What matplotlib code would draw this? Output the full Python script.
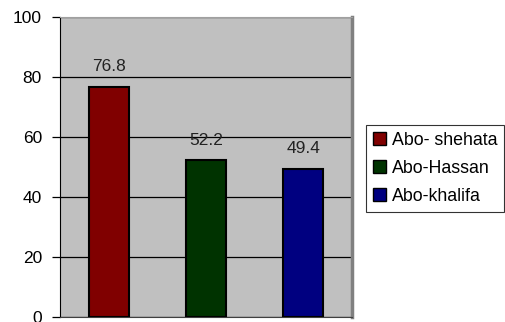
import matplotlib.pyplot as plt

plt.rcParams['font.family'] = ['Liberation Sans', 'DejaVu Sans']

names = ["Abo- shehata", "Abo-Hassan", "Abo-khalifa"]
values = [76.8, 52.2, 49.4]
colors = ["#800000", "#003300", "#000080"]
yticks = [0, 20, 40, 60, 80, 100]

fig = plt.figure(figsize=(5.05, 3.22), dpi=100)
ax = fig.add_axes([60 / 505, 5 / 322, 292 / 505, 300 / 322])
ax.set_facecolor("#c0c0c0")

x = list(range(len(values)))
bars = ax.bar(x, values, width=0.41, color=colors, edgecolor="black",
              linewidth=1.5, label=names, zorder=3)

# value labels above each bar
for xi, v in zip(x, values):
    ax.annotate(f"{v}", (xi, v), xytext=(0, 9), textcoords="offset points",
                ha="center", va="bottom", fontsize=12.5, color="#222222", zorder=4)

ax.set_xlim(-0.5, 2.5)
ax.set_ylim(0, 100)
ax.set_yticks(yticks)
ax.set_xticks([])
ax.yaxis.grid(True, color="black", linewidth=0.9, zorder=1)
ax.tick_params(axis="y", length=6, width=0.9, labelsize=12.5, pad=7)

ax.spines["left"].set_color("black")
ax.spines["bottom"].set_color("#404040")
ax.spines["top"].set_color("#a0a0a0")
ax.spines["right"].set_color("#808080")
ax.spines["right"].set_linewidth(2.5)

leg = fig.legend(bars, names, loc="upper left", bbox_to_anchor=(366 / 505, 1 - 125 / 322),
                 fontsize=12.8, frameon=True, fancybox=False, edgecolor="black",
                 handlelength=0.75, handleheight=0.75, handletextpad=0.3,
                 labelspacing=0.62, borderpad=0.4, borderaxespad=0)
leg.get_frame().set_linewidth(0.8)
for h in leg.legend_handles:
    h.set_linewidth(1.0)

fig.savefig("out.png", dpi=100)
